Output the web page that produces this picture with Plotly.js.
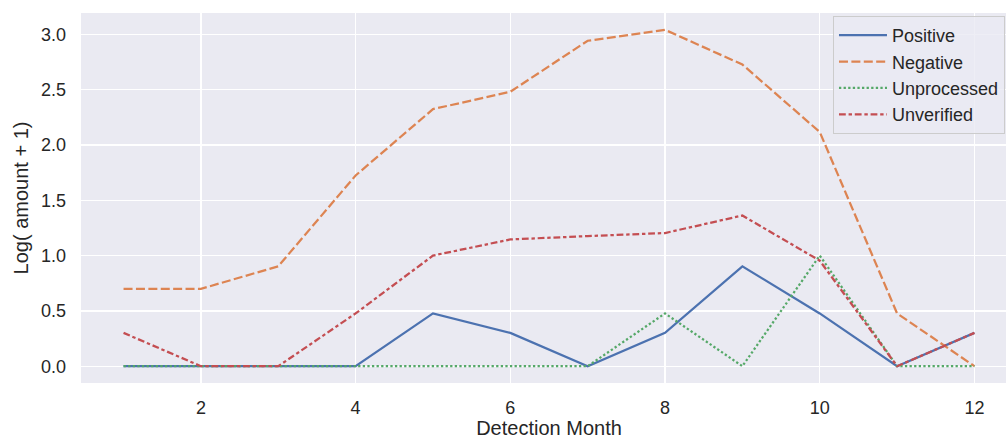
<!DOCTYPE html>
<html>
<head>
<meta charset="utf-8">
<script src="https://cdn.plot.ly/plotly-3.0.1.min.js"></script>
<style>
html,body{margin:0;padding:0;overflow:hidden;background:#fff;}
#chart{width:1017px;height:439px;}
</style>
</head>
<body>
<div id="chart"></div>
<script>
const months = [1,2,3,4,5,6,7,8,9,10,11,12];
const seriesNames = ["Positive","Negative","Unprocessed","Unverified"];
const positive    = [0,0,0,0,0.477,0.301,0,0.301,0.903,0.477,0,0.301];
const negative    = [0.699,0.699,0.903,1.724,2.324,2.481,2.942,3.041,2.727,2.117,0.477,0];
const unprocessed = [0,0,0,0,0,0,0,0.477,0,1.0,0,0];
const unverified  = [0.301,0,0,0.477,1.0,1.146,1.176,1.204,1.362,0.954,0,0.301];
const xTicks = [2,4,6,8,10,12];
const yTicks = [0,0.5,1,1.5,2,2.5,3];

const colors = ["#4c72b0","#dd8452","#55a868","#c44e52"];
const dashes = ["solid","9px,3.4px","2.3px,2.3px","6.8px,2.8px,3.4px,2.8px"];
const vals = [positive,negative,unprocessed,unverified];

const traces = vals.map((v,i)=>({
  x: months, y: v, name: seriesNames[i], type:"scatter", mode:"lines",
  line:{color:colors[i], width:2.25, dash:dashes[i]}
}));

const font = {family:"Liberation Sans, Arial, sans-serif", color:"#262626"};
const layout = {
  width:1017, height:439,
  margin:{l:81,r:0,t:13,b:56},
  paper_bgcolor:"#ffffff", plot_bgcolor:"#eaeaf2",
  font: Object.assign({size:18}, font),
  xaxis:{range:[0.45,12.55], tickvals:xTicks, ticktext:xTicks.map(String),
    showgrid:true, gridcolor:"#ffffff", gridwidth:1.3, zeroline:false, showline:false,
    ticks:"", tickfont:{size:18}, ticklabelstandoff:12,
    title:{text:"Detection Month", font:{size:20}, standoff:4}},
  yaxis:{range:[-0.152,3.193], tickvals:yTicks, ticktext:yTicks.map(v=>v.toFixed(1)),
    showgrid:true, gridcolor:"#ffffff", gridwidth:1.3, zeroline:false, showline:false,
    ticks:"", tickfont:{size:18}, ticklabelstandoff:14,
    title:{text:"Log( amount + 1)", font:{size:20}, standoff:6}},
  legend:{x:0.8034, y:0.992, xanchor:"left", yanchor:"top",
    bgcolor:"rgba(234,234,242,0.8)", bordercolor:"#cccccc", borderwidth:1,
    font:{size:18}, itemwidth:48},
  showlegend:true
};
Plotly.newPlot("chart", traces, layout, {displayModeBar:false, staticPlot:true});
</script>
</body>
</html>
